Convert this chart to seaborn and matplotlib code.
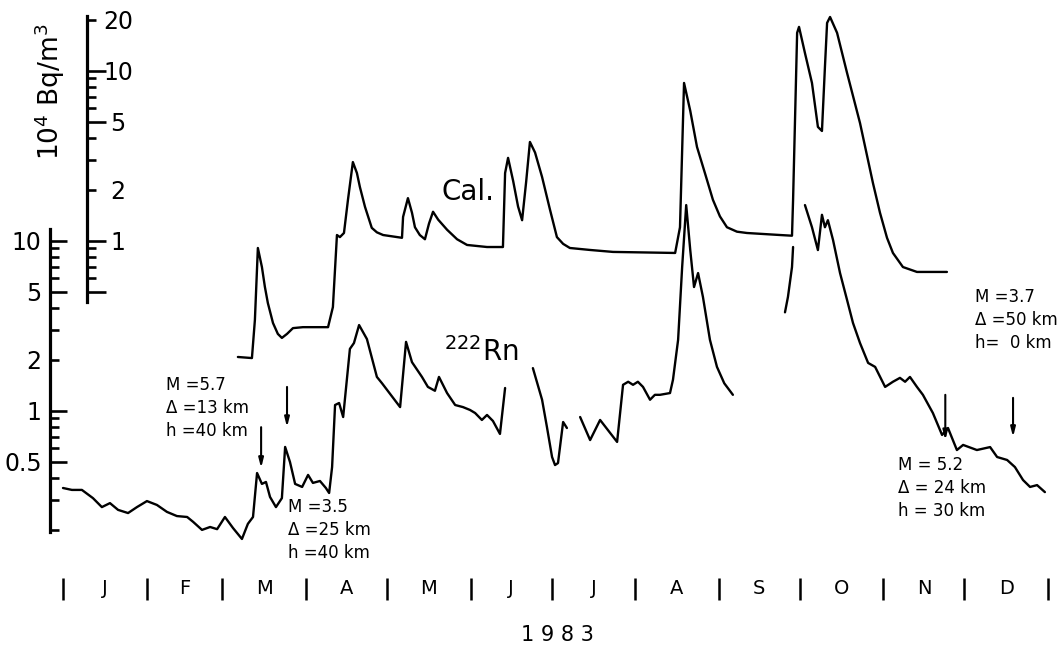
import numpy as np
import pandas as pd
import matplotlib
matplotlib.use("Agg")
import matplotlib.pyplot as plt
import seaborn as sns

# ---------------- data ----------------
# 222Rn, lower scale (10^4 Bq/m^3), day of year 1983, in separate drawn segments
rn_day_a = [0, 3.3, 7.0, 11.1, 14.4, 17.4, 20.4, 24.1, 27.4, 31.1, 34.8, 38.5, 42.2, 46.0,
            48.2, 51.5, 54.5, 57.1, 60.0, 63.0, 66.3, 68.5, 70.4, 71.9, 73.7, 75.2, 76.7,
            78.9, 81.1, 82.3, 84.1, 86.0, 88.6, 90.8, 92.6, 95.2, 97.4, 98.6, 99.7, 100.8,
            102.3, 103.8, 106.3, 107.8, 109.7, 112.6, 116.3, 118.2, 124.9, 127.1, 129.3,
            133.0, 135.2, 137.8, 139.3, 142.3, 145.3, 148.2, 150.8, 152.7, 155.2, 157.1,
            159.3, 161.9, 163.8]
rn_val_a = [0.351, 0.342, 0.342, 0.306, 0.271, 0.286, 0.261, 0.250, 0.271, 0.294, 0.279,
            0.254, 0.240, 0.237, 0.222, 0.199, 0.207, 0.201, 0.237, 0.204, 0.176, 0.216,
            0.237, 0.430, 0.371, 0.381, 0.311, 0.271, 0.306, 0.612, 0.499, 0.371, 0.356,
            0.419, 0.376, 0.386, 0.351, 0.328, 0.466, 1.08, 1.11, 0.918, 2.31, 2.50, 3.19,
            2.64, 1.58, 1.45, 1.05, 2.54, 1.93, 1.58, 1.38, 1.31, 1.58, 1.27, 1.08, 1.05,
            1.01, 0.969, 0.882, 0.944, 0.870, 0.730, 1.36]
rn_day_b = [174.1, 177.5, 179.3, 181.2, 182.3, 183.4, 185.3, 186.7]
rn_val_b = [1.78, 1.16, 0.802, 0.534, 0.479, 0.492, 0.858, 0.791]
rn_day_c = [191.6, 195.3, 199.0, 205.3, 207.5, 209.4, 211.2, 213.0, 214.9, 217.5, 219.3,
            221.2, 224.9, 226.0, 227.9, 229.4, 230.9, 232.4, 233.8, 235.3, 237.1, 239.7,
            242.3, 245.0, 248.2]
rn_val_c = [0.918, 0.672, 0.882, 0.655, 1.42, 1.48, 1.42, 1.48, 1.38, 1.16, 1.24, 1.24,
            1.27, 1.52, 2.61, 7.00, 16.2, 8.81, 5.34, 6.45, 4.67, 2.61, 1.81, 1.45, 1.24]
rn_day_d = [267.5, 268.6, 270.1, 270.5]
rn_val_d = [3.79, 4.67, 7.00, 9.18]
rn_day_e = [274.9, 277.5, 279.7, 281.2, 282.3, 283.4, 285.3, 287.9, 290.5, 292.7, 295.3,
            298.3, 300.9, 304.6, 307.5, 310.1, 312.0, 313.8, 316.4, 318.6, 322.3, 325.7,
            327.9, 331.2, 333.5, 338.6, 343.5, 346.1, 349.8, 352.7, 355.7, 358.3, 360.9,
            363.8]
rn_val_e = [16.2, 12.0, 8.81, 14.2, 12.0, 13.2, 10.1, 6.45, 4.48, 3.28, 2.50, 1.91, 1.81,
            1.38, 1.48, 1.56, 1.48, 1.58, 1.38, 1.24, 0.969, 0.720, 0.791, 0.587, 0.629,
            0.587, 0.611, 0.534, 0.513, 0.466, 0.391, 0.356, 0.365, 0.332]

# Cal. curve, upper scale (10^4 Bq/m^3)
cal_day = [64.8, 70.0, 71.1, 72.2, 73.7, 74.8, 75.9, 77.8, 79.6, 81.1, 83.0, 85.2, 88.9,
           98.2, 100.0, 101.5, 102.6, 104.1, 105.6, 107.4, 108.9, 110.0, 111.9, 114.4,
           116.3, 118.6, 125.6, 126.0, 127.8, 129.3, 130.4, 132.2, 134.1, 135.6, 137.1,
           139.0, 142.3, 146.0, 149.7, 157.1, 163.0, 163.8, 164.9, 166.8, 168.6, 170.1,
           171.6, 173.0, 174.9, 177.5, 180.4, 183.0, 185.3, 187.8, 195.3, 203.8, 226.8,
           228.6, 230.1, 232.4, 234.9, 237.9, 240.8, 243.4, 246.0, 249.7, 253.4, 265.7,
           270.1, 270.5, 272.0, 272.7, 274.9, 277.5, 279.7, 281.2, 282.3, 283.1, 284.2,
           286.8, 290.5, 295.3, 300.1, 302.7, 305.3, 307.5, 311.2, 316.4, 327.5]
cal_val = [0.207, 0.204, 0.342, 0.906, 0.700, 0.535, 0.430, 0.328, 0.283, 0.268, 0.283,
           0.306, 0.310, 0.310, 0.407, 1.08, 1.05, 1.11, 1.75, 2.90, 2.50, 2.07, 1.58,
           1.19, 1.12, 1.08, 1.04, 1.38, 1.78, 1.46, 1.20, 1.08, 1.02, 1.26, 1.48, 1.33,
           1.16, 1.02, 0.944, 0.918, 0.918, 2.50, 3.07, 2.24, 1.59, 1.32, 2.22, 3.81, 3.30,
           2.37, 1.53, 1.05, 0.958, 0.906, 0.882, 0.859, 0.847, 1.20, 8.47, 5.81, 3.56,
           2.48, 1.74, 1.39, 1.20, 1.13, 1.11, 1.08, 1.07, 1.74, 16.7, 18.1, 12.7, 8.47,
           4.67, 4.42, 10.5, 19.1, 20.7, 16.7, 9.70, 4.92, 2.18, 1.46, 1.04, 0.847, 0.700,
           0.655, 0.655]

months = ["J", "F", "M", "A", "M", "J", "J", "A", "S", "O", "N", "D"]
month_starts = [0, 31, 59, 90, 120, 151, 181, 212, 243, 273, 304, 334, 365]

rn_major = [0.5, 1, 5, 10]
rn_major_lbl = ["0.5", "1", "5", "10"]
rn_minor = [0.2, 0.3, 0.4, 0.6, 0.7, 0.8, 0.9, 2, 3, 4, 6, 7, 8, 9]
rn_minor_lbl = ["", "", "", "", "", "", "", "2", "", "", "", "", "", ""]
cal_major = [0.5, 1, 5, 10]
cal_major_lbl = ["", "1", "5", "10"]
cal_minor = [0.6, 0.7, 0.8, 0.9, 2, 3, 4, 6, 7, 8, 9, 20]
cal_minor_lbl = ["", "", "", "", "2", "", "", "", "", "", "", "20"]

quake_day = [73.4, 83.0, 326.9, 352.0]
quake_top = [0.80, 1.38, 1.24, 1.19]
quake_tip = [0.46, 0.80, 0.67, 0.70]
quake_text = [["M =5.7", "Δ =13 km", "h =40 km"],
              ["M =3.5", "Δ =25 km", "h =40 km"],
              ["M = 5.2", "Δ = 24 km", "h = 30 km"],
              ["M =3.7", "Δ =50 km", "h=  0 km"]]

# ---------------- layout helpers (pixels of a 1064x652 canvas) ----------------
W, H = 1064, 652
X0, PXD = 63.0, 2.699          # day 0 at x=63 px, px per day
Y1, PXDEC = 410.7, 170.0        # Rn value 1 at y=410.7 px, px per decade


def dx(px):
    return (px - X0) / PXD


def vy(py):
    return 10 ** ((Y1 - py) / PXDEC)


def fx(px):
    return px / W


def fy(py):
    return 1 - py / H


sns.set_style("white")
plt.rcParams["font.family"] = ["DejaVu Sans"]
plt.rcParams["mathtext.fontset"] = "dejavusans"
for key in ("text.color", "axes.labelcolor", "xtick.color", "ytick.color", "axes.edgecolor"):
    plt.rcParams[key] = "black"

fig = plt.figure(figsize=(W / 100, H / 100), dpi=100)
fig.patch.set_facecolor("white")
L, R, T, B = 40, 1060, 5, 545
ax = fig.add_axes([fx(L), fy(B), fx(R) - fx(L), fy(T) - fy(B)])
ax.set_yscale("log")
ax.patch.set_alpha(0)
ax2 = ax.twinx()
ax2.set_yscale("log")

segs = []
for k, (d, v) in enumerate([(rn_day_a, rn_val_a), (rn_day_b, rn_val_b), (rn_day_c, rn_val_c),
                            (rn_day_d, rn_val_d), (rn_day_e, rn_val_e)]):
    segs.append(pd.DataFrame({"day": d, "value": v, "seg": k}))
rn_df = pd.concat(segs, ignore_index=True)
cal_df = pd.DataFrame({"day": cal_day, "value": cal_val})

sns.lineplot(data=rn_df, x="day", y="value", units="seg", estimator=None, sort=False,
             color="black", lw=1.7, ax=ax)
sns.lineplot(data=cal_df, x="day", y="value", estimator=None, sort=False,
             color="black", lw=1.7, ax=ax2)

ylo, yhi = vy(B), vy(T)
ax.set_xlim(dx(L), dx(R))
ax.set_ylim(ylo, yhi)
ax2.set_ylim(ylo / 10, yhi / 10)
for a in (ax, ax2):
    a.set_xlabel("")
    a.set_ylabel("")
    a.grid(False)

# lower (Rn) axis
ax.spines["top"].set_visible(False)
ax.spines["right"].set_visible(False)
ax.spines["left"].set_position(("data", dx(50)))
ax.spines["left"].set_bounds(0.193, 11.7)
ax.spines["left"].set_linewidth(2.3)
ax.spines["left"].set_color("black")
ax.spines["bottom"].set_visible(False)
ax.spines["bottom"].set_position(("outward", (588.5 - B) * 0.72))

ax.set_yticks(rn_major, labels=rn_major_lbl)
ax.set_yticks(rn_minor, labels=rn_minor_lbl, minor=True)
ax.tick_params(axis="y", which="major", direction="in", length=12.5, width=1.9, pad=6,
               labelsize=17, left=True, right=False, colors="black")
ax.tick_params(axis="y", which="minor", direction="in", length=6.5, width=1.9, pad=6,
               labelsize=17, left=True, right=False, colors="black")

# month bars and letters
mids = [(a + b) / 2 for a, b in zip(month_starts[:-1], month_starts[1:])]
ax.set_xticks(month_starts, labels=[""] * len(month_starts))
ax.set_xticks(mids, labels=months, minor=True)
ax.tick_params(axis="x", which="major", direction="inout", length=16.5, width=1.8,
               bottom=True, top=False, colors="black")
ax.tick_params(axis="x", which="minor", length=0, pad=0, labelsize=14, bottom=True,
               colors="black")
for t in ax.get_xticklabels(minor=True):
    t.set_va("center")

# upper (Cal.) axis
for s in ("top", "left", "bottom"):
    ax2.spines[s].set_visible(False)
ax2.spines["right"].set_position(("data", dx(87)))
ax2.spines["right"].set_bounds(0.436, 21.0)
ax2.spines["right"].set_linewidth(2.3)
ax2.spines["right"].set_color("black")
ax2.set_yticks(cal_major, labels=cal_major_lbl)
ax2.set_yticks(cal_minor, labels=cal_minor_lbl, minor=True)
ax2.tick_params(axis="y", which="major", direction="out", length=14, width=1.9, pad=8.4,
                labelsize=17, right=True, left=False, labelright=True, labelleft=False,
                colors="black")
ax2.tick_params(axis="y", which="minor", direction="out", length=6.5, width=1.9, pad=15.8,
                labelsize=17, right=True, left=False, labelright=True, labelleft=False,
                colors="black")
for t in ax2.get_yticklabels(which="both"):
    t.set_ha("center")

# earthquake arrows and notes
for d, top, tip in zip(quake_day, quake_top, quake_tip):
    ax.annotate("", xy=(d, tip), xytext=(d, top),
                arrowprops=dict(arrowstyle="-|>,head_length=0.55,head_width=0.14",
                                color="black", lw=1.5, shrinkA=0, shrinkB=0))

note_pos = [(166, 385, 23), (288, 507, 23), (898, 465, 23), (975, 297, 23)]
for (x, y, gap), lines in zip(note_pos, quake_text):
    for i, s in enumerate(lines):
        fig.text(fx(x), fy(y + i * gap), s, fontsize=12, ha="left", va="center",
                 color="black")

fig.text(fx(50), fy(92), "10$^4$ Bq/m$^3$", rotation=90, fontsize=19, ha="center",
         va="center", color="black")
fig.text(fx(468), fy(192), "Cal.", fontsize=20, ha="center", va="center", color="black")
fig.text(fx(481), fy(352), "$^{222}$Rn", fontsize=20, ha="center", va="center",
         color="black")
fig.text(fx(557), fy(635), "1 9 8 3", fontsize=15, ha="center", va="center", color="black")

fig.savefig("out.png", dpi=100, facecolor="white")
